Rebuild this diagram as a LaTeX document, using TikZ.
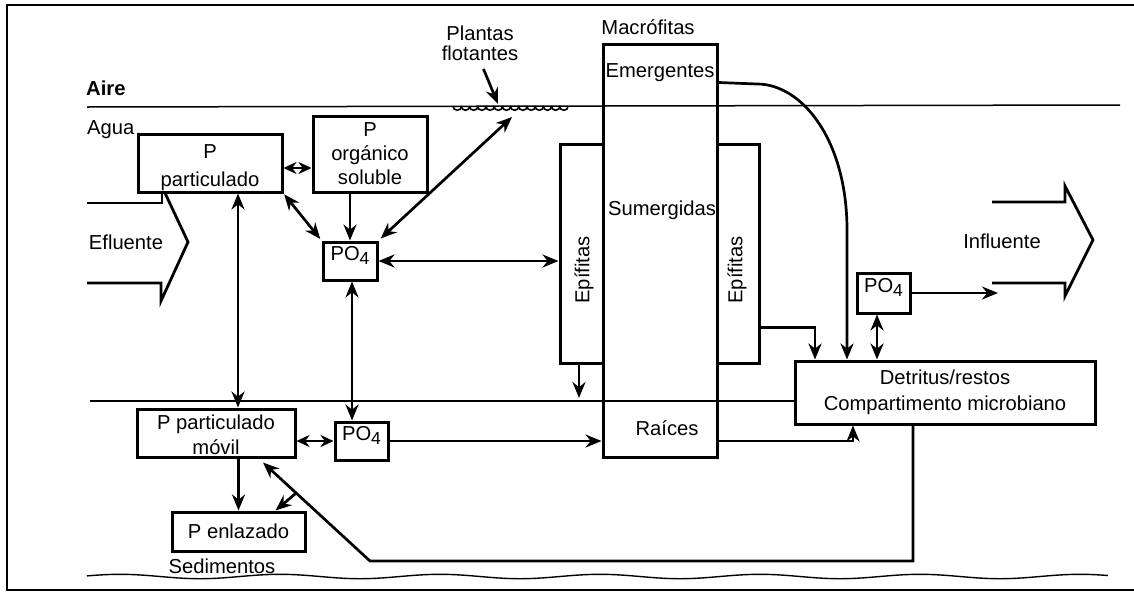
\documentclass[tikz,border=0pt]{standalone}
\usepackage{fontspec}
\setmainfont{Liberation Sans}
\usetikzlibrary{arrows.meta,calc}
\newcommand\pofour{PO\raisebox{-4pt}{\fontsize{17.5}{17.5}\selectfont 4}}
\begin{document}
\begin{tikzpicture}[x=1pt,y=-1pt, font=\fontsize{20.2}{26}\selectfont,
  box/.style={draw, line width=3pt, inner sep=0pt, align=center},
  lbl/.style={inner sep=0pt, align=center},
  thick2/.style={line width=2.8pt},
  tip/.tip={Stealth[length=16pt,width=13pt]},
  stip/.tip={Stealth[length=13pt,width=12pt]},
  arr/.style={line width=2.7pt, -tip},
  darr/.style={line width=2.7pt, tip-tip},
  sdarr/.style={line width=2.2pt, stip-stip}]
\useasboundingbox (0,0) rectangle (1134,592);
% frame
\draw[line width=2.8pt] (1134,5) -- (7,5) -- (7,590) -- (1134,590);
% surfaces
\draw[line width=1.5pt] (87,107) -- (1120,105);
\coordinate (sedL) at (90,401);
\draw[line width=1.4pt] plot[domain=87:1108, samples=160, smooth] (\x, {576.5+2.2*sin(\x*2.25)});
% floating plants
\foreach \i in {0,...,13}
  \draw[line width=1.6pt] (453+8.2*\i,106) arc[start angle=180, end angle=0, radius=4.3];
\coordinate (fp) at (512,117);
\coordinate (fptop) at (498,104);
% labels
\node[lbl, anchor=west, font=\fontsize{20.2}{26}\selectfont\bfseries] (aire) at (86,88) {Aire};
\node[lbl, anchor=west] (agua) at (87,130) {Agua};
\node[lbl] (eflu) at (126,242) {Efluente};
\node[lbl] (influ) at (1002,241) {Influente};
\node[lbl, font=\fontsize{20.2}{20}\selectfont] (plbl) at (480,43) {Plantas\\flotantes};
\node[lbl] (macl) at (648,27) {Macrófitas};
\node[lbl] (sedl) at (222,566) {Sedimentos};
% boxes
\node[box, minimum width=144, minimum height=58] (ppart) at (210,163) {};
\node[lbl, font=\fontsize{20.2}{28}\selectfont] (ppartt) at ([yshift=-5pt]ppart.center) {P\\particulado};
\node[box, minimum width=114, minimum height=76, font=\fontsize{20.2}{24}\selectfont] (porg) at (370,154) {P\\orgánico\\soluble};
\node[box, minimum width=54, minimum height=38] (po4w) at (350,261) {};
\node[lbl] (po4wt) at ([yshift=6pt]po4w.center) {\pofour};
\node[box, minimum width=158, minimum height=48] (ppm) at (216,433) {};
\node[lbl, font=\fontsize{20.2}{25}\selectfont] (ppmt) at ([yshift=-2pt]ppm.center) {P particulado\\móvil};
\node[box, minimum width=53, minimum height=38] (po4s) at (361.5,441) {};
\node[lbl] (po4st) at ([yshift=6pt]po4s.center) {\pofour};
\node[box, minimum width=133, minimum height=39] (penl) at (238.5,531.5) {P enlazado};
\node[box, minimum width=43, minimum height=219] (epiL) at (581.5,253.5) {};
\node[box, minimum width=42, minimum height=219] (epiR) at (738,253.5) {};
\node[box, minimum width=114, minimum height=413] (macro) at (660,250.5) {};
\node[box, minimum width=53, minimum height=40] (po4r) at (883.5,293) {};
\node[lbl] (po4rt) at ([yshift=6pt]po4r.center) {\pofour};
\node[box, minimum width=300, minimum height=63] (detr) at (945,392.5) {Detritus/restos\\Compartimento microbiano};
% texts in macrophyte column
\node[lbl] (emer) at (660,73) {Emergentes};
\node[lbl] (sumer) at (662,210) {Sumergidas};
\node[lbl] (raic) at (667,428) {Raíces};
\node[lbl, rotate=90] (epiLt) at (584,270) {Epífitas};
\node[lbl, rotate=90] (epiRt) at (737,270) {Epífitas};
% sediment line
\draw[thick2] (sedL) -- (sedL -| detr.west);
% Efluente / Influente arrows
\draw[thick2] (87,203) -- (162,203) -- (162,193);
\draw[thick2, line join=miter] (165,193) -- (188,242) -- (161,301) -- (161,283) -- (87,283);
\draw[thick2, line join=miter] (992,202) -- (1065,202) -- (1065,186) -- (1093,240) -- (1065,296) -- (1065,283) -- (992,283);
% connectors
\draw[sdarr] ([yshift=-5pt]ppart.east) -- ([yshift=-5pt]ppart.east -| porg.west);
\draw[darr, shorten <=1pt, shorten >=2pt] (ppart.south east) -- (po4w.north west);
\draw[arr] (po4w.north |- porg.south) -- (po4w.north);
\draw[darr, shorten <=3pt] (po4w.north east) -- (fp);
\draw[arr, shorten <=9pt] (plbl.south) -- (fptop);
\draw[darr] (po4w.east) -- (po4w.east -| epiL.west);
\draw[darr] ([xshift=28pt]ppart.south) -- ([xshift=28pt]ppart.south |- ppm.north);
\draw[darr] ([xshift=2pt]po4w.south) -- ([xshift=2pt]po4w.south |- po4s.north);
\draw[sdarr] (po4s.west -| ppm.east) -- (po4s.west);
\draw[arr] (po4s.east) -- (po4s.east -| macro.west);
\draw[arr, shorten >=3pt] ([xshift=-2.5pt]epiL.south) -- ([xshift=-2.5pt]epiL.south |- sedL);
\draw[arr] ($(epiR.south east)+(0,-37)$) -| ([xshift=-130pt]detr.north);
\draw[arr] ($(macro.north east)+(0,40)$) -- (757,84) .. controls (802,84) and (847,140) .. (847,230) -- ([xshift=-98pt]detr.north);
\draw[darr] ([xshift=-6.5pt]po4r.south) -- ([xshift=-6.5pt]po4r.south |- detr.north);
\coordinate (inflend) at (998,293);
\draw[arr] (po4r.east) -- (inflend);
\draw[arr] (po4s.east -| macro.east) -| ([xshift=-92pt]detr.south);
\coordinate (ret) at (370,561);
\coordinate (ppmtip) at ([xshift=47pt,yshift=-4pt]ppm.south);
\draw[arr] ([xshift=-32pt]detr.south) |- (ret) -- (ppmtip);
\coordinate (br) at ($(ret)!0.69!(ppmtip)$);
\draw[arr] (br) -- ([xshift=37pt]penl.north);
\draw[arr] (penl.north |- ppm.south) -- (penl.north);
\end{tikzpicture}
\end{document}
